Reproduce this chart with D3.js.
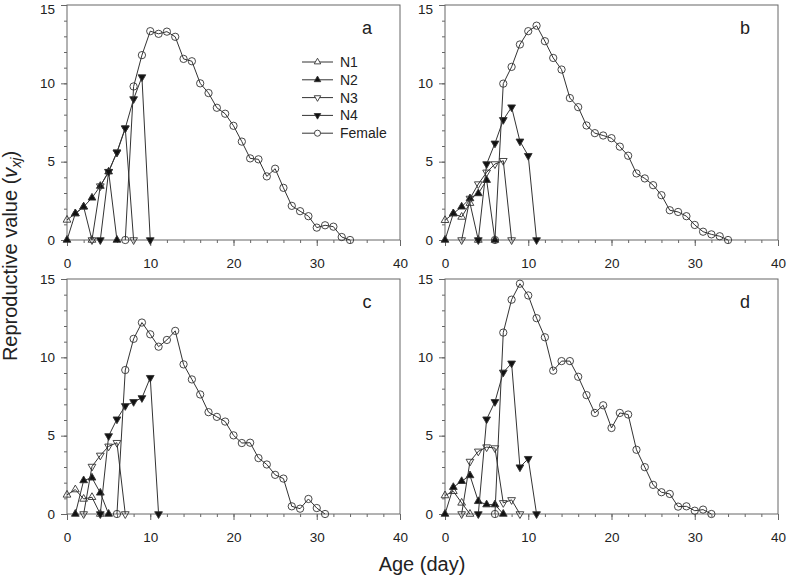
<!DOCTYPE html>
<html><head><meta charset="utf-8">
<script src="https://cdn.jsdelivr.net/npm/d3@7"></script>
<style>
body{margin:0;background:#fff}
svg{display:block}
text{font-family:Arial,"Liberation Sans",sans-serif;fill:#222}
</style>
</head><body>
<svg id="chart" width="787" height="576"></svg>
<script>
// ---------- data ----------
const seriesNames = ["N1","N2","N3","N4","Female"];
const panelLabels = ["a","b","c","d"];
const xMajorTicks = [0,10,20,30,40];
const yMajorTicks = [0,5,10,15];

// first age (day) of each series, order N1,N2,N3,N4,Female
const startA = [0,0,3,4,7];
const aN1 = [1.28,1.69,2.12,0];
const aN2 = [0,1.69,2.12,2.69,3.44,4.36,0];
const aN3 = [0,3.44,4.36,5.6,7.14,0];
const aN4 = [0,4.36,5.6,7.14,9.0,10.4,0];
const aF  = [0,9.8,11.8,13.33,13.16,13.3,12.97,11.56,11.41,10.0,9.38,8.44,8.06,7.29,6.28,5.21,5.15,4.06,4.55,3.33,2.18,1.84,1.52,0.79,0.94,0.85,0.19,0];

const startB = [0,0,2,4,6];
const bN1 = [1.26,1.69,1.47,2.35,0];
const bN2 = [0,1.69,2.12,2.65,2.97,3.82,0];
const bN3 = [0,2.65,3.57,4.32,4.85,5.06,0];
const bN4 = [0,4.85,6.17,7.67,8.48,6.3,5.38,0];
const bF  = [0,9.98,11.05,12.48,13.33,13.68,12.69,11.62,10.88,9.06,8.48,7.31,6.82,6.67,6.5,5.96,5.38,4.25,3.93,3.5,2.86,1.9,1.79,1.52,0.96,0.53,0.36,0.24,0];

const startC = [0,1,2,4,6];
const cN1 = [1.22,1.56,0.96,1.07,0];
const cN2 = [0,2.14,2.31,1.35,0];
const cN3 = [0,3.03,3.74,4.32,4.55,0];
const cN4 = [0,4.98,6.05,6.9,7.16,7.41,8.7,0];
const cF  = [0,9.19,11.18,12.22,11.47,10.68,11.11,11.69,9.55,8.59,7.63,6.5,6.2,5.9,5.02,4.53,4.55,3.57,3.16,2.5,2.26,0.49,0.34,0.96,0.38,0];

const startD = [0,0,2,4,6];
const dN1 = [1.18,1.45,0.71,0];
const dN2 = [0,1.71,2.09,2.46,0.81,0.6,0.6,0];
const dN3 = [0,3.35,4.0,4.27,4.21,0.71,0.9,0];
const dN4 = [0,6.05,7.16,9.04,9.62,2.99,3.53,0];
const dF  = [0,11.58,13.68,14.7,13.95,12.5,11.28,9.15,9.76,9.76,8.76,7.59,6.45,6.94,5.49,6.45,6.35,4.1,2.99,1.86,1.39,1.28,0.47,0.49,0.21,0.28,0];

const panelSeries = [
  {start:startA, vals:[aN1,aN2,aN3,aN4,aF]},
  {start:startB, vals:[bN1,bN2,bN3,bN4,bF]},
  {start:startC, vals:[cN1,cN2,cN3,cN4,cF]},
  {start:startD, vals:[dN1,dN2,dN3,dN4,dF]}
];

// ---------- layout ----------
const W = 333, H = 235;
const panelPos = [[67,5],[445,5],[67,279],[445,279]];
const svg = d3.select("#chart");
const axisCol = "#666", lineCol = "#333";

const markerStyle = [
  {type:d3.symbolTriangle, rot:0,   fill:"none"},
  {type:d3.symbolTriangle, rot:0,   fill:"#111"},
  {type:d3.symbolTriangle, rot:180, fill:"none"},
  {type:d3.symbolTriangle, rot:180, fill:"#111"},
  {type:d3.symbolCircle,   rot:0,   fill:"none"}
];
function symPath(i, scale){
  const m = markerStyle[i];
  const size = (m.type===d3.symbolCircle ? 42 : 26) * (scale||1);
  return d3.symbol().type(m.type).size(size)();
}

const x = d3.scaleLinear().domain([0,40]).range([0,W]);
const y = d3.scaleLinear().domain([0,15]).range([H,0]);
const line = d3.line().x(d=>x(d[0])).y(d=>y(d[1]));

panelSeries.forEach((p, pi) => {
  const [px, py] = panelPos[pi];
  const g = svg.append("g").attr("transform", `translate(${px},${py})`);

  // axes
  const xMinor = d3.axisBottom(x).tickValues(d3.range(0,41,2)).tickSize(3).tickFormat("");
  const xMajor = d3.axisBottom(x).tickValues(xMajorTicks).tickSize(6).tickPadding(12);
  const yMinor = d3.axisLeft(y).tickValues(d3.range(0,16,1)).tickSize(3).tickFormat("");
  const yMajor = d3.axisLeft(y).tickValues(yMajorTicks).tickSize(6).tickPadding(6);
  [[xMinor,true],[xMajor,true],[yMinor,false],[yMajor,false]].forEach(([ax,isX]) => {
    const a = g.append("g").attr("transform", isX ? `translate(0,${H})` : null).call(ax);
    a.select(".domain").remove();
    a.selectAll("line").attr("stroke", axisCol);
    a.selectAll("text").style("font-size","13.5px").attr("fill","#222");
    // keep the topmost label of the upper panels inside the picture
    if (!isX && py < 10) a.selectAll(".tick text").filter(d => d === 15).attr("dy","0.62em");
  });

  g.append("rect").attr("x",0).attr("y",0).attr("width",W).attr("height",H)
    .attr("fill","none").attr("stroke",axisCol).attr("stroke-width",1);

  // series
  p.vals.forEach((vals, si) => {
    const pts = vals.map((v,k)=>[p.start[si]+k, v]);
    g.append("path").datum(pts).attr("d", line)
      .attr("fill","none").attr("stroke",lineCol).attr("stroke-width",1);
    g.selectAll(null).data(pts).enter().append("path")
      .attr("d", symPath(si))
      .attr("transform", d=>`translate(${x(d[0])},${y(d[1])}) rotate(${markerStyle[si].rot})`)
      .attr("fill", markerStyle[si].fill)
      .attr("stroke", "#333").attr("stroke-width", 0.9);
  });

  g.append("text").attr("x", 300).attr("y", 29).attr("text-anchor","middle")
    .style("font-size","18px").text(panelLabels[pi]);

  // legend in first panel
  if (pi === 0) {
    const lg = g.append("g").attr("transform", `translate(${302-px},${62-py})`);
    seriesNames.forEach((n, si) => {
      const row = lg.append("g").attr("transform", `translate(0,${si*17.8})`);
      row.append("line").attr("x1",0).attr("x2",31).attr("y1",0).attr("y2",0)
        .attr("stroke",lineCol).attr("stroke-width",1);
      row.append("path").attr("d", symPath(si, 0.7))
        .attr("transform", `translate(15.5,0) rotate(${markerStyle[si].rot})`)
        .attr("fill", markerStyle[si].fill === "none" ? "#fff" : markerStyle[si].fill)
        .attr("stroke","#333").attr("stroke-width",0.9);
      row.append("text").attr("x", 38).attr("y", 0).attr("dy","0.36em")
        .style("font-size","14px").text(n);
    });
  }
});

// axis titles
const yt = svg.append("text").attr("transform","translate(17,256) rotate(-90)")
  .attr("text-anchor","middle").style("font-size","20px");
yt.append("tspan").text("Reproductive value (");
yt.append("tspan").style("font-style","italic").text("v");
yt.append("tspan").style("font-style","italic").style("font-size","14px").attr("dy","4").text("xj");
yt.append("tspan").attr("dy","-4").text(")");

svg.append("text").attr("x", 422).attr("y", 571).attr("text-anchor","middle")
  .style("font-size","20px").text("Age (day)");
</script>
</body></html>
